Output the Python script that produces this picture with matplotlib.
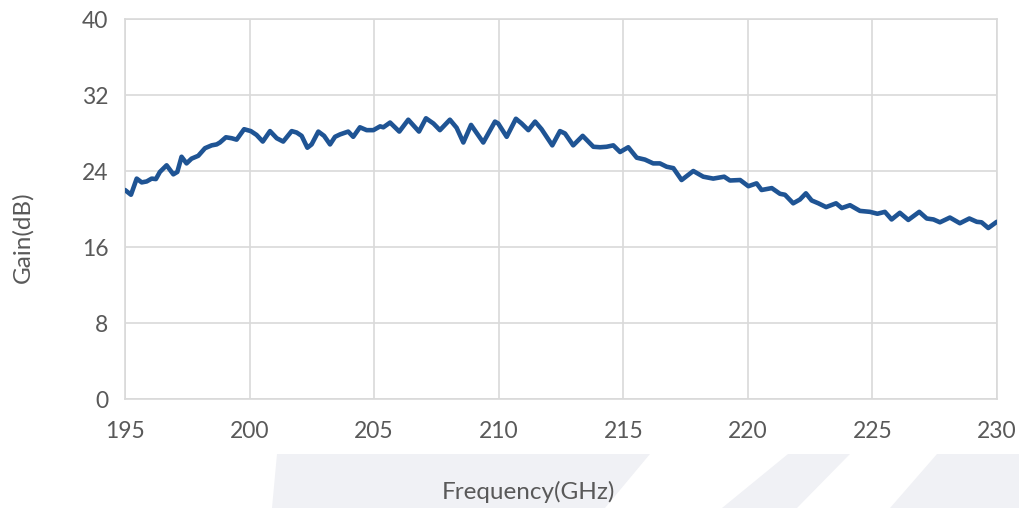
import matplotlib
matplotlib.use("Agg")
import matplotlib.pyplot as plt
from matplotlib.patches import Polygon

# ---- data ----
freq_ghz = [195.0, 195.24, 195.47, 195.67, 195.87, 196.07, 196.24, 196.4, 196.67, 196.94,
            197.1, 197.27, 197.47, 197.67, 197.94, 198.21, 198.48, 198.68, 198.81, 199.05,
            199.28, 199.48, 199.78, 200.05, 200.28, 200.53, 200.82, 201.09, 201.35, 201.69,
            201.89, 202.09, 202.32, 202.49, 202.76, 202.99, 203.23, 203.43, 203.63, 203.96,
            204.16, 204.43, 204.7, 204.97, 205.24, 205.37, 205.64, 206.01, 206.37, 206.8,
            207.08, 207.38, 207.64, 208.04, 208.31, 208.58, 208.89, 209.38, 209.85, 209.98,
            210.32, 210.69, 210.92, 211.19, 211.46, 211.72, 212.15, 212.46, 212.66, 212.99,
            213.37, 213.8, 214.07, 214.33, 214.6, 214.87, 215.2, 215.54, 215.87, 216.2,
            216.47, 216.74, 217.01, 217.34, 217.81, 218.21, 218.61, 219.05, 219.28, 219.69,
            220.02, 220.35, 220.55, 220.96, 221.29, 221.49, 221.82, 222.09, 222.33, 222.56,
            222.83, 223.14, 223.54, 223.77, 224.1, 224.5, 224.9, 225.2, 225.5, 225.77,
            226.1, 226.44, 226.88, 227.18, 227.45, 227.71, 228.11, 228.51, 228.89, 229.19,
            229.38, 229.65, 229.99]
gain_db = [22.0, 21.5, 23.2, 22.8, 22.9, 23.2, 23.15, 23.9, 24.6, 23.65,
           23.9, 25.5, 24.8, 25.3, 25.6, 26.4, 26.7, 26.8, 27.0, 27.55,
           27.45, 27.3, 28.4, 28.2, 27.8, 27.1, 28.2, 27.45, 27.1, 28.2,
           28.05, 27.7, 26.45, 26.8, 28.15, 27.7, 26.8, 27.6, 27.85, 28.15,
           27.6, 28.6, 28.3, 28.3, 28.7, 28.6, 29.1, 28.15, 29.4, 28.15,
           29.55, 29.0, 28.3, 29.4, 28.55, 27.0, 28.85, 27.0, 29.2, 29.0,
           27.6, 29.5, 29.0, 28.3, 29.2, 28.4, 26.7, 28.2, 27.95, 26.7,
           27.7, 26.55, 26.5, 26.55, 26.7, 26.0, 26.5, 25.4, 25.2, 24.8,
           24.8, 24.45, 24.3, 23.05, 24.0, 23.4, 23.2, 23.4, 23.0, 23.05,
           22.4, 22.7, 22.0, 22.2, 21.6, 21.5, 20.6, 21.0, 21.65, 20.9,
           20.6, 20.2, 20.6, 20.1, 20.4, 19.8, 19.7, 19.5, 19.7, 18.9,
           19.6, 18.85, 19.7, 19.0, 18.9, 18.6, 19.1, 18.5, 19.0, 18.65,
           18.6, 18.0, 18.65]
x_ticks = [195, 200, 205, 210, 215, 220, 225, 230]
y_ticks = [0, 8, 16, 24, 32, 40]
x_label = "Frequency(GHz)"
y_label = "Gain(dB)"

# ---- figure ----
W, H = 1019, 508
fig = plt.figure(figsize=(W / 100, H / 100), dpi=100)
fig.patch.set_facecolor("white")

def fx(px):
    return px / W

def fy(py):
    return 1 - py / H

# faint background watermark shapes
wm_color = "#f0f1f5"
shapes = [
    [(272, 508), (277, 454), (650, 454), (605, 508)],
    [(722, 508), (788, 454), (850, 454), (797, 508)],
    [(890, 508), (937, 454), (1019, 454), (1019, 508)],
]
for s in shapes:
    poly = Polygon([(fx(a), fy(b)) for a, b in s], closed=True,
                   transform=fig.transFigure, facecolor=wm_color,
                   edgecolor="none", zorder=0)
    fig.patches.append(poly)

ax = fig.add_axes([fx(125), fy(399), fx(997) - fx(125), fy(19) - fy(399)])
ax.set_facecolor("none")

grid_c = "#d9d9d9"
ax.plot(freq_ghz, gain_db, color="#1f5494", lw=3.3, solid_joinstyle="round",
        solid_capstyle="round", zorder=3)

ax.set_xlim(195, 230)
ax.set_ylim(0, 40)
ax.set_xticks(x_ticks)
ax.set_yticks(y_ticks)
ax.grid(True, color=grid_c, lw=1.2, zorder=0)
ax.set_axisbelow(True)
for sp in ax.spines.values():
    sp.set_color(grid_c)
    sp.set_linewidth(1.2)

font = "Lato"
txt_c = "#595959"
ax.tick_params(axis="both", length=0, labelsize=16.5, labelcolor=txt_c)
ax.tick_params(axis="y", pad=12)
ax.tick_params(axis="x", pad=16)
for lab in ax.get_xticklabels() + ax.get_yticklabels():
    lab.set_fontfamily(font)

fig.text(fx(528), fy(492), x_label, ha="center", va="center",
         fontsize=17.5, color=txt_c, family=font)
fig.text(fx(23), fy(237), y_label, ha="center", va="center", rotation=90,
         fontsize=17.5, color=txt_c, family=font)

fig.savefig("out.png", dpi=100, facecolor="white")
